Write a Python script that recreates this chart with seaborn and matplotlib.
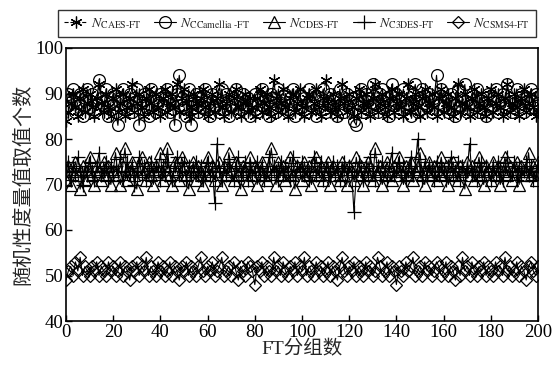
import numpy as np
import pandas as pd
import matplotlib
matplotlib.use("Agg")
import matplotlib.pyplot as plt
import seaborn as sns

x_groups = list(range(0, 201))

caes = [84, 86, 88, 90, 87, 85, 89, 91, 86, 88, 90, 87, 85, 89, 92, 88, 86, 90, 87, 85,
        89, 91, 86, 88, 90, 85, 87, 89, 92, 86, 88, 90, 87, 85, 89, 91, 88, 86, 90, 87,
        85, 89, 91, 86, 88, 90, 87, 92, 86, 89, 91, 88, 85, 87, 90, 88, 86, 89, 91, 87,
        85, 88, 90, 86, 89, 92, 87, 85, 88, 90, 86, 89, 91, 87, 85, 88, 90, 86, 89, 87,
        85, 89, 91, 86, 88, 90, 87, 85, 93, 89, 86, 88, 91, 87, 85, 89, 90, 86, 88, 91,
        87, 85, 89, 90, 86, 88, 91, 87, 85, 89, 93, 88, 86, 90, 87, 85, 89, 92, 88, 86,
        90, 87, 85, 89, 91, 86, 88, 90, 87, 85, 89, 92, 86, 88, 90, 87, 85, 89, 91, 86,
        88, 90, 87, 85, 89, 92, 86, 88, 90, 87, 85, 89, 91, 86, 88, 90, 87, 85, 89, 91,
        86, 88, 90, 87, 85, 89, 92, 86, 88, 90, 87, 85, 89, 91, 86, 88, 90, 87, 85, 89,
        91, 86, 88, 90, 87, 85, 89, 92, 86, 88, 90, 87, 85, 89, 91, 86, 88, 90, 87, 85,
        86]

ccamellia = [87, 90, 89, 91, 86, 88, 90, 85, 89, 91, 87, 90, 86, 88, 93, 89, 87, 91, 85, 88,
             90, 86, 83, 89, 91, 87, 88, 90, 86, 89, 91, 83, 88, 90, 87, 85, 91, 89, 86, 88,
             90, 87, 89, 91, 86, 88, 83, 90, 94, 89, 87, 85, 91, 83, 88, 90, 86, 89, 87, 91,
             88, 85, 90, 87, 89, 86, 91, 88, 90, 85, 87, 89, 91, 86, 88, 90, 87, 89, 85, 88,
             90, 86, 89, 91, 87, 88, 85, 90, 89, 86, 91, 88, 87, 90, 86, 89, 91, 85, 88, 90,
             87, 89, 86, 91, 88, 90, 85, 87, 89, 91, 86, 88, 90, 87, 89, 85, 91, 88, 86, 90,
             87, 89, 84, 83, 88, 91, 86, 90, 89, 87, 92, 88, 86, 90, 91, 87, 89, 85, 92, 88,
             90, 86, 89, 91, 87, 88, 85, 90, 92, 86, 89, 91, 88, 87, 90, 86, 89, 94, 88, 91,
             87, 89, 86, 90, 88, 85, 91, 87, 89, 92, 86, 88, 90, 87, 91, 86, 89, 88, 85, 90,
             87, 89, 91, 86, 88, 90, 87, 92, 89, 86, 88, 91, 87, 90, 86, 89, 88, 91, 87, 90,
             88]

cdes = [71, 74, 70, 73, 75, 72, 69, 74, 71, 73, 76, 72, 70, 74, 73, 71, 75, 72, 74, 70,
        73, 77, 72, 70, 74, 78, 71, 73, 75, 72, 69, 74, 76, 73, 71, 75, 72, 70, 74, 73,
        77, 71, 74, 78, 72, 70, 75, 73, 71, 76, 74, 72, 69, 73, 75, 71, 74, 72, 70, 73,
        76, 72, 74, 71, 73, 75, 70, 74, 72, 77, 73, 71, 75, 72, 69, 74, 73, 71, 76, 72,
        74, 70, 73, 75, 72, 71, 74, 78, 73, 70, 75, 72, 74, 71, 73, 76, 72, 69, 74, 73,
        71, 75, 72, 74, 70, 73, 76, 72, 74, 71, 73, 75, 70, 74, 72, 73, 71, 75, 72, 70,
        74, 73, 71, 76, 72, 74, 70, 73, 75, 72, 71, 78, 73, 74, 70, 72, 75, 73, 71, 74,
        72, 76, 73, 70, 74, 72, 75, 71, 73, 74, 77, 72, 70, 73, 75, 72, 74, 71, 73, 76,
        72, 74, 70, 73, 75, 72, 71, 74, 73, 69, 75, 72, 74, 71, 73, 76, 72, 70, 74, 73,
        71, 75, 72, 74, 70, 73, 76, 72, 74, 71, 73, 75, 70, 74, 72, 73, 77, 72, 74, 71,
        75]

c3des = [73, 75, 71, 74, 72, 76, 73, 70, 74, 72, 75, 73, 71, 74, 77, 72, 73, 75, 71, 74,
         72, 74, 73, 76, 71, 73, 75, 72, 74, 70, 73, 76, 72, 74, 71, 73, 75, 72, 74, 73,
         71, 74, 72, 75, 73, 71, 74, 76, 72, 73, 75, 71, 74, 72, 73, 75, 72, 74, 71, 73,
         75, 72, 74, 66, 79, 73, 71, 74, 72, 75, 73, 71, 74, 76, 72, 73, 75, 71, 74, 72,
         73, 75, 72, 74, 71, 73, 76, 72, 74, 73, 71, 75, 72, 74, 73, 71, 76, 72, 74, 73,
         75, 72, 73, 71, 74, 76, 72, 73, 75, 71, 74, 72, 73, 75, 72, 74, 71, 73, 75, 72,
         74, 73, 64, 72, 75, 73, 71, 74, 72, 76, 73, 71, 74, 72, 75, 73, 71, 74, 77, 72,
         73, 75, 72, 74, 71, 73, 76, 72, 74, 80, 73, 71, 75, 72, 74, 73, 71, 75, 72, 74,
         73, 71, 74, 76, 72, 73, 75, 71, 74, 72, 73, 79, 72, 74, 71, 73, 75, 72, 74, 73,
         71, 74, 72, 75, 73, 71, 74, 76, 72, 73, 75, 71, 74, 72, 73, 75, 72, 74, 71, 73,
         74]

csms4 = [49, 51, 52, 50, 53, 51, 54, 50, 52, 51, 50, 52, 51, 53, 50, 52, 51, 50, 53, 51,
         52, 50, 51, 53, 50, 52, 51, 49, 52, 51, 53, 50, 52, 51, 54, 50, 52, 51, 50, 53,
         51, 52, 50, 51, 53, 50, 52, 51, 49, 52, 51, 53, 50, 52, 51, 50, 52, 54, 51, 50,
         52, 51, 53, 50, 51, 52, 54, 50, 51, 52, 50, 53, 51, 49, 52, 51, 50, 53, 52, 51,
         48, 52, 51, 53, 50, 52, 51, 50, 54, 51, 52, 50, 53, 51, 50, 52, 51, 53, 50, 52,
         51, 54, 50, 52, 51, 50, 53, 51, 52, 50, 51, 53, 50, 52, 51, 49, 52, 54, 51, 50,
         52, 51, 53, 50, 52, 51, 50, 53, 51, 52, 50, 51, 54, 52, 50, 51, 53, 50, 52, 51,
         48, 52, 51, 50, 53, 51, 52, 54, 50, 51, 52, 50, 53, 51, 52, 50, 51, 53, 52, 50,
         51, 53, 50, 52, 51, 49, 52, 50, 54, 51, 52, 50, 53, 51, 50, 52, 51, 53, 50, 52,
         51, 50, 53, 51, 52, 50, 54, 51, 52, 50, 51, 53, 50, 52, 51, 49, 52, 53, 51, 50,
         52]

labels = [r'$N_{\text{CAES-FT}}$', r'$N_{\text{CCamellia -FT}}$', r'$N_{\text{CDES-FT}}$',
          r'$N_{\text{C3DES-FT}}$', r'$N_{\text{CSMS4-FT}}$']
x_ticks = [0, 20, 40, 60, 80, 100, 120, 140, 160, 180, 200]
y_ticks = [40, 50, 60, 70, 80, 90, 100]

sns.set_style("ticks")
plt.rcParams['font.family'] = ['Liberation Serif', 'Noto Sans CJK SC']
plt.rcParams['mathtext.fontset'] = 'stix'

fig = plt.figure(figsize=(5.52, 3.66), dpi=100)
ax = fig.add_axes([66/552, 45/366, 472/552, 273/366])

series = [
    (caes, dict(marker=(6, 2, 0), markersize=8.5, linestyle='--')),
    (ccamellia, dict(marker='o', markersize=8.5, linestyle='-')),
    (cdes, dict(marker='^', markersize=8.5, linestyle='-')),
    (c3des, dict(marker='+', markersize=10, linestyle='-')),
    (csms4, dict(marker='D', markersize=6, linestyle='-')),
]
for (vals, st), lab in zip(series, labels):
    sns.lineplot(x=x_groups, y=vals, ax=ax, color='black', linewidth=0.8,
                 markerfacecolor='none', markeredgecolor='black', markeredgewidth=0.9,
                 label=lab, **st)

ax.set_xlim(0, 200)
ax.set_ylim(40, 100)
ax.set_xticks(x_ticks)
ax.set_yticks(y_ticks)
ax.tick_params(direction='in', length=4, width=1, labelsize=13.5, colors='black', pad=2)
for s in ax.spines.values():
    s.set_linewidth(1.2)
    s.set_color('black')
ax.set_xlabel('FT分组数', fontsize=14, labelpad=0)
ax.set_ylabel('随机性度量值取值个数', fontsize=14.5, labelpad=1)

leg = ax.legend(loc='lower center', bbox_to_anchor=(0.49, 1.04), ncol=5, frameon=True,
                fancybox=False, edgecolor='black', fontsize=10, handlelength=1.6,
                handletextpad=0.3, columnspacing=0.9, borderpad=0.45, borderaxespad=0)
leg.get_frame().set_linewidth(1.0)

fig.savefig('out.png', dpi=100)
